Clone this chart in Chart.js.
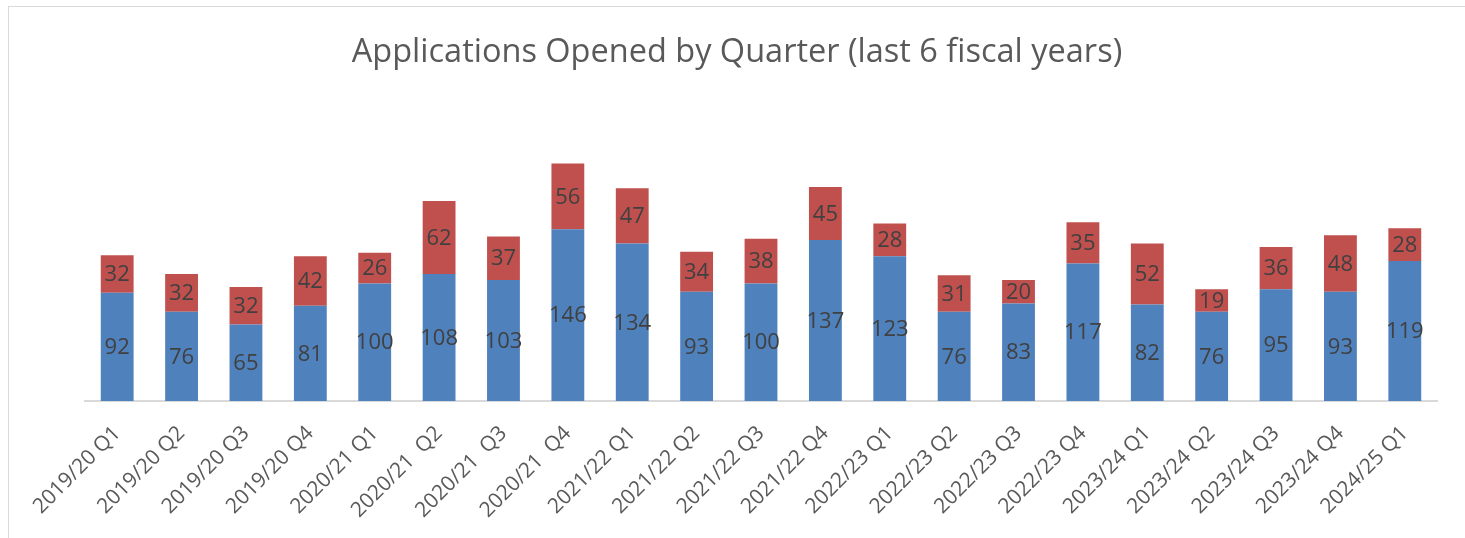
<!DOCTYPE html>
<html>
<head>
<meta charset="utf-8">
<script src="https://cdn.jsdelivr.net/npm/chart.js@4"></script>
<style>
  html, body { margin: 0; padding: 0; background: #fff; overflow: hidden; }
  #wrap { position: absolute; left: 0; top: 0; width: 1465px; height: 538px; }
  #frame { position: absolute; left: 8px; top: 6px; width: 1470px; height: 545px;
           border: 1px solid #d9d9d9; pointer-events: none; }
</style>
</head>
<body>
<div id="wrap"><canvas id="myChart" width="1465" height="538"></canvas></div>
<div id="frame"></div>
<script>
var quarters = ['2019/20 Q1', '2019/20 Q2', '2019/20 Q3', '2019/20 Q4', '2020/21 Q1',
  '2020/21  Q2', '2020/21  Q3', '2020/21  Q4', '2021/22 Q1', '2021/22 Q2', '2021/22 Q3',
  '2021/22 Q4', '2022/23 Q1', '2022/23 Q2', '2022/23 Q3', '2022/23 Q4', '2023/24 Q1',
  '2023/24 Q2', '2023/24 Q3', '2023/24 Q4', '2024/25 Q1'];
var bottomPart = [92, 76, 65, 81, 100, 108, 103, 146, 134, 93, 100, 137, 123, 76, 83, 117, 82, 76, 95, 93, 119];
var topPart = [32, 32, 32, 42, 26, 62, 37, 56, 47, 34, 38, 45, 28, 31, 20, 35, 52, 19, 36, 48, 28];

// draw the value in the middle of each bar piece
var barValues = {
  id: 'barValues',
  afterDatasetsDraw: function(chart) {
    var ctx = chart.ctx;
    ctx.save();
    ctx.font = '22px "Open Sans"';
    ctx.fillStyle = '#404040';
    ctx.textAlign = 'center';
    ctx.textBaseline = 'middle';
    chart.data.datasets.forEach(function(ds, i) {
      chart.getDatasetMeta(i).data.forEach(function(bar, j) {
        var mid = (bar.y + bar.base) / 2;
        ctx.fillText(ds.data[j], bar.x, mid + 1);
      });
    });
    ctx.restore();
  }
};

// empty side axes only to reserve room, so the title stays centred on the page
function blankAxis(pos, w) {
  return {
    position: pos, display: true,
    grid: { display: false }, border: { display: false },
    ticks: { display: false },
    afterFit: function(scale) { scale.width = w; }
  };
}

var yLeft = blankAxis('left', 76);
yLeft.stacked = true;
yLeft.min = 0;
yLeft.max = 250;

var ctx = document.getElementById('myChart');
var myChart = new Chart(ctx, {
  type: 'bar',
  data: {
    labels: quarters,
    datasets: [
      { label: 'Series 1', data: bottomPart, backgroundColor: '#4f81bd',
        barPercentage: 0.51, categoryPercentage: 1 },
      { label: 'Series 2', data: topPart, backgroundColor: '#c0504d',
        barPercentage: 0.51, categoryPercentage: 1 }
    ]
  },
  options: {
    responsive: false,
    animation: false,
    layout: { padding: { left: 9, right: 0, top: 0, bottom: 1 } },
    plugins: {
      legend: { display: false },
      tooltip: { enabled: false },
      title: {
        display: true,
        text: 'Applications Opened by Quarter (last 6 fiscal years)',
        color: '#595959',
        font: { family: 'Open Sans', size: 32.5, weight: 'normal' },
        padding: { top: 33, bottom: 35 }
      }
    },
    scales: {
      x: {
        stacked: true,
        grid: { display: false, drawTicks: false },
        border: { display: true, color: '#d9d9d9', width: 2 },
        ticks: {
          color: '#595959',
          font: { family: 'Open Sans', size: 21 },
          minRotation: 45, maxRotation: 45,
          padding: 20,
          autoSkip: false
        },
        afterFit: function(scale) { scale.height -= 6; }
      },
      y: yLeft,
      yRight: blankAxis('right', 28)
    }
  },
  plugins: [barValues]
});
</script>
</body>
</html>
